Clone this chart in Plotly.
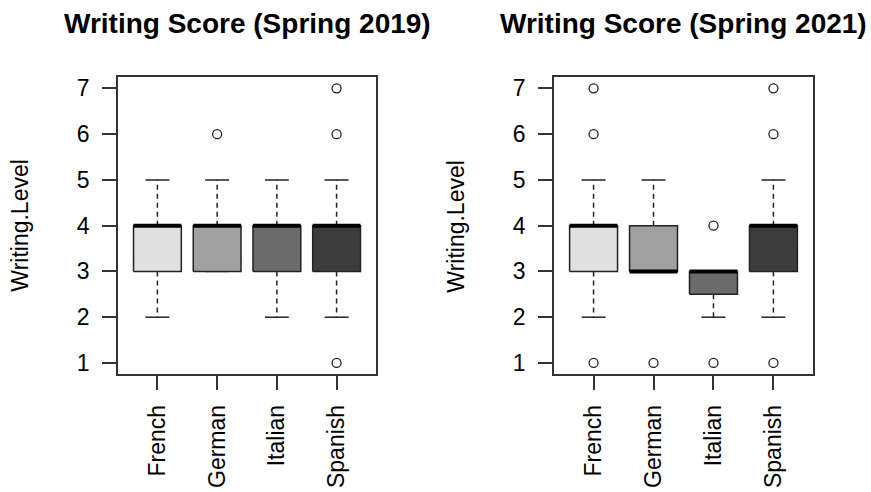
import plotly.graph_objects as go

# Languages on the x axis of both panels
languages = ["French", "German", "Italian", "Spanish"]
fill_colors = ["#E0E0E0", "#A0A0A0", "#6B6B6B", "#3C3C3C"]
y_ticks = [1, 2, 3, 4, 5, 6, 7]

# Spring 2019 box statistics
lower_2019 = [2, 3, 2, 2]
q1_2019 = [3, 3, 3, 3]
median_2019 = [4, 4, 4, 4]
q3_2019 = [4, 4, 4, 4]
upper_2019 = [5, 5, 5, 5]
outliers_2019 = [[], [6], [], [7, 6, 1]]

# Spring 2021 box statistics
lower_2021 = [2, 3, 2, 2]
q1_2021 = [3, 3, 2.5, 3]
median_2021 = [4, 3, 3, 4]
q3_2021 = [4, 4, 3, 4]
upper_2021 = [5, 5, 3, 5]
outliers_2021 = [[7, 6, 1], [1], [4, 1], [7, 6, 1]]

titles = ["Writing Score (Spring 2019)", "Writing Score (Spring 2021)"]

FONT = "Liberation Sans, Arial, sans-serif"
EDGE = "#222222"
FRAME = "#333333"
HALF_BOX = 0.4
HALF_CAP = 0.2

fig = go.Figure()


def add_panel(xa, ya, lower, q1, med, q3, upper, outs):
    for i, lang in enumerate(languages):
        x = i + 1
        # dashed whiskers
        fig.add_trace(go.Scatter(
            x=[x, x, None, x, x], y=[q3[i], upper[i], None, q1[i], lower[i]],
            mode="lines", line=dict(color=EDGE, width=1.5, dash="5px,4px"),
            xaxis=xa, yaxis=ya, hoverinfo="skip", showlegend=False))
        # staples
        fig.add_trace(go.Scatter(
            x=[x - HALF_CAP, x + HALF_CAP, None, x - HALF_CAP, x + HALF_CAP],
            y=[upper[i], upper[i], None, lower[i], lower[i]],
            mode="lines", line=dict(color=EDGE, width=1.5),
            xaxis=xa, yaxis=ya, hoverinfo="skip", showlegend=False))
        # box
        fig.add_trace(go.Scatter(
            x=[x - HALF_BOX, x + HALF_BOX, x + HALF_BOX, x - HALF_BOX, x - HALF_BOX],
            y=[q1[i], q1[i], q3[i], q3[i], q1[i]],
            mode="lines", fill="toself", fillcolor=fill_colors[i],
            line=dict(color=EDGE, width=1.5),
            xaxis=xa, yaxis=ya, hoverinfo="skip", showlegend=False))
        # median
        fig.add_trace(go.Scatter(
            x=[x - HALF_BOX, x + HALF_BOX], y=[med[i], med[i]],
            mode="lines", line=dict(color="#000000", width=4),
            xaxis=xa, yaxis=ya, hoverinfo="skip", showlegend=False))
        # outliers
        if outs[i]:
            fig.add_trace(go.Scatter(
                x=[x] * len(outs[i]), y=outs[i], mode="markers",
                marker=dict(symbol="circle-open", size=9, color=EDGE,
                            line=dict(width=1.3, color=EDGE)),
                xaxis=xa, yaxis=ya, hoverinfo="skip", showlegend=False))


add_panel("x", "y", lower_2019, q1_2019, median_2019, q3_2019, upper_2019, outliers_2019)
add_panel("x2", "y2", lower_2021, q1_2021, median_2021, q3_2021, upper_2021, outliers_2021)

W, H = 871, 492
y_dom = [(H - 375) / H, (H - 76) / H]
x_doms = [[118 / W, 376 / W], [554 / W, 813 / W]]

axis_common = dict(
    showgrid=False, zeroline=False, showline=True, mirror=True,
    linecolor=FRAME, linewidth=1.5, ticks="outside", ticklen=14,
    tickwidth=1.5, tickcolor=FRAME,
    tickfont=dict(family=FONT, size=23, color="#000000"),
)

layout = dict(
    width=W, height=H, margin=dict(l=0, r=0, t=0, b=0),
    paper_bgcolor="white", plot_bgcolor="white", showlegend=False,
    annotations=[],
)

for k, suffix in enumerate(["", "2"]):
    layout["xaxis" + suffix] = dict(
        axis_common, domain=x_doms[k], range=[0.34, 4.66],
        tickmode="array", tickvals=list(range(1, len(languages) + 1)),
        ticktext=languages, tickangle=-90, anchor="y" + suffix,
        ticklabelstandoff=6,
    )
    layout["yaxis" + suffix] = dict(
        axis_common, domain=y_dom, range=[0.76, 7.24],
        tickmode="array", tickvals=y_ticks, anchor="x" + suffix,
        ticklabelstandoff=8,
    )
    cx = (x_doms[k][0] + x_doms[k][1]) / 2
    layout["annotations"].append(dict(
        text="<b>" + titles[k] + "</b>", x=cx, y=(H - 22) / H,
        xref="paper", yref="paper", showarrow=False,
        xanchor="center", yanchor="middle",
        font=dict(family=FONT, size=28, color="#000000")))
    layout["annotations"].append(dict(
        text="Writing.Level", x=x_doms[k][0] - 98 / W, y=(y_dom[0] + y_dom[1]) / 2,
        xref="paper", yref="paper", showarrow=False, textangle=-90,
        xanchor="center", yanchor="middle",
        font=dict(family=FONT, size=23, color="#000000")))

fig.update_layout(**layout)
fig.write_html("out.html")
